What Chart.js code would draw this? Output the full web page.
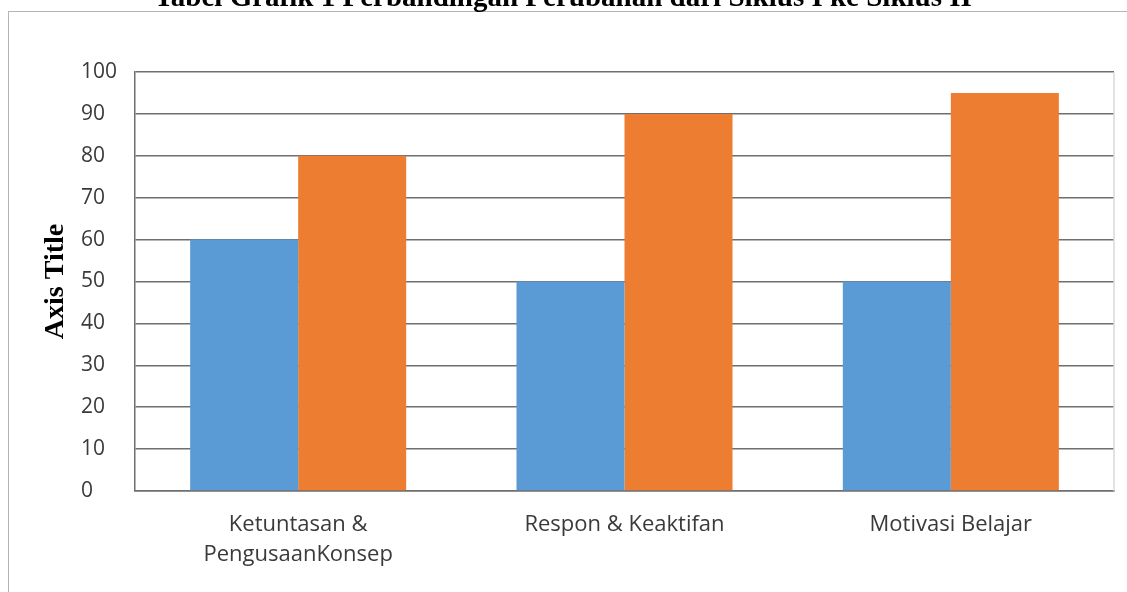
<!DOCTYPE html>
<html>
<head>
<meta charset="utf-8">
<script src="https://cdn.jsdelivr.net/npm/chart.js@4/dist/chart.umd.min.js"></script>
<style>
  html, body { margin: 0; padding: 0; background: #fff; overflow: hidden; }
  #frame {
    position: absolute; left: 8px; top: 11px; width: 1200px; height: 700px;
    border-left: 1px solid #b4b4b4; border-top: 1px solid #b4b4b4;
  }
  #wrap { position: absolute; left: 0; top: 0; width: 1127px; height: 592px; }
</style>
</head>
<body>
<div id="frame"></div>
<div id="wrap"><canvas id="chart1"></canvas></div>
<script>
// Data
const categories = [['Ketuntasan &', 'PengusaanKonsep'], 'Respon & Keaktifan', 'Motivasi Belajar'];
const siklus1 = [60, 50, 50];
const siklus2 = [80, 90, 95];
const yTicks = [0, 10, 20, 30, 40, 50, 60, 70, 80, 90, 100];

const chartTitle = 'Tabel Grafik 1 Perbandingan Perubahan dari Siklus I ke Siklus II';
const yAxisTitle = 'Axis Title';

// title, y axis title and the light right edge of the plot
const extras = {
  id: 'extras',
  afterDraw(chart) {
    const ctx = chart.ctx;
    const area = chart.chartArea;
    ctx.save();
    ctx.strokeStyle = '#d9d9d9';
    ctx.lineWidth = 1.5;
    ctx.beginPath();
    ctx.moveTo(area.right, area.top);
    ctx.lineTo(area.right, area.bottom);
    ctx.stroke();

    ctx.fillStyle = '#000';
    ctx.font = 'bold 29px "Liberation Serif", "Times New Roman", serif';
    ctx.textAlign = 'center';
    ctx.textBaseline = 'alphabetic';
    ctx.fillText(chartTitle, 563, 6);

    ctx.translate(63, (area.top + area.bottom) / 2);
    ctx.rotate(-Math.PI / 2);
    ctx.font = 'bold 28px "Liberation Serif", "Times New Roman", serif';
    ctx.fillText(yAxisTitle, 0, 0);
    ctx.restore();
  }
};

const ctx1 = document.getElementById('chart1').getContext('2d');
const chart1 = new Chart(ctx1, {
  type: 'bar',
  data: {
    labels: categories,
    datasets: [{
      label: 'Siklus I',
      data: siklus1,
      backgroundColor: '#5B9BD5'
    }, {
      label: 'Siklus II',
      data: siklus2,
      backgroundColor: '#ED7D31'
    }]
  },
  options: {
    responsive: true,
    maintainAspectRatio: false,
    animation: false,
    layout: { padding: { left: 81, top: 72, right: 13, bottom: 0 } },
    plugins: {
      legend: { display: false },
      tooltip: { enabled: false }
    },
    datasets: {
      bar: { categoryPercentage: 0.662, barPercentage: 1.0 }
    },
    scales: {
      x: {
        grid: { display: false },
        border: { color: '#6f6f6f', width: 1.5 },
        ticks: {
          color: '#3a3a3a',
          padding: 11,
          maxRotation: 0,
          font: { family: '"Open Sans", sans-serif', size: 22, lineHeight: 1.37 }
        },
        afterFit(scale) { scale.height = 101; }
      },
      y: {
        min: 0,
        max: 100,
        afterBuildTicks(scale) { scale.ticks = yTicks.map(v => ({ value: v })); },
        grid: { color: '#6f6f6f', lineWidth: 1.5, drawTicks: false },
        border: { color: '#6f6f6f', width: 1.5 },
        ticks: {
          color: '#3a3a3a',
          crossAlign: 'far',
          font: { family: '"Open Sans", sans-serif', size: 21 }
        },
        afterFit(scale) { scale.width = 54; }
      }
    }
  },
  plugins: [extras]
});
</script>
</body>
</html>
